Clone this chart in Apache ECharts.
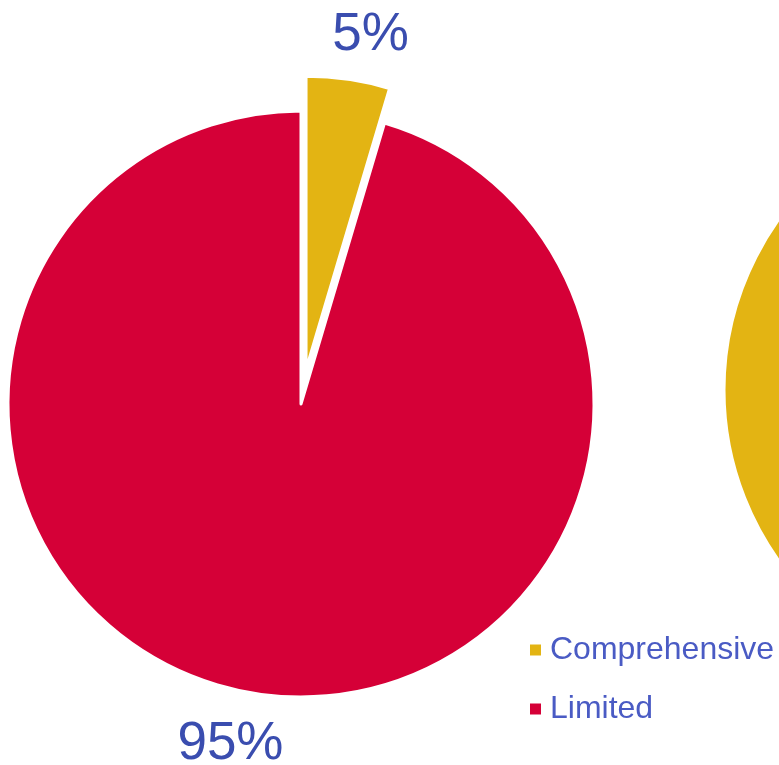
<!DOCTYPE html>
<html lang="en">
<head>
    <meta charset="UTF-8">
    <title>Comprehensive vs Limited</title>
    <script src="https://cdn.jsdelivr.net/npm/echarts@6/dist/echarts.min.js"></script>
</head>
<body style="height: 100%; margin: 0; background: #fff;">
<div id="container" style="width: 779px; height: 765px;"></div>
<script type="text/javascript">

    // categories and values (percent, labels show rounded values)
    let categories = ['Comprehensive', 'Limited'];
    let leftValues = [4.6, 95.4];
    let rightValues = [90, 10];   // second pie, mostly off screen
    let colors = ['#E3B413', '#D50037'];

    // per slice label distance (line length, second segment)
    let labelLen = [[44, 11], [51, 16]];

    let dom = document.getElementById("container");
    let myChart = echarts.init(dom);

    function pieData(values, selectFirst) {
        return categories.map(function (name, i) {
            return {
                name: name,
                value: values[i],
                selected: selectFirst && i === 0,
                itemStyle: {color: colors[i]},
                select: {itemStyle: {color: colors[i]}},
                labelLine: {show: false, length: labelLen[i][0], length2: labelLen[i][1]}
            };
        });
    }

    let labelStyle = {
        show: true,
        position: 'outside',
        formatter: function (p) {
            return Math.round(p.value) + '%';
        },
        fontFamily: 'Liberation Sans',
        fontSize: 53,
        color: '#3A4DAF'
    };

    let option = {
        backgroundColor: '#fff',
        animation: false,
        legend: {
            orient: 'vertical',
            left: 528,
            top: 634,
            padding: 0,
            itemWidth: 13,
            itemHeight: 13,
            itemGap: 27,
            icon: 'rect',
            data: categories,
            textStyle: {
                fontFamily: 'Liberation Sans',
                fontSize: 32,
                lineHeight: 32,
                padding: [0, 0, 0, 3],
                color: '#4A5BC4'
            }
        },
        series: [{
            type: 'pie',
            name: 'left',
            center: [301, 404],
            radius: 293,
            startAngle: 90,
            clockwise: true,
            selectedMode: 'single',
            selectedOffset: 35,
            itemStyle: {borderColor: '#fff', borderWidth: 3},
            label: labelStyle,
            labelLine: {show: false},
            labelLayout: {align: 'center'},
            emphasis: {disabled: true},
            data: pieData(leftValues, true)
        }, {
            type: 'pie',
            name: 'right',
            center: [1017, 390],
            radius: 293,
            startAngle: 90,
            clockwise: true,
            itemStyle: {borderColor: '#fff', borderWidth: 3},
            label: labelStyle,
            labelLine: {show: false},
            labelLayout: {align: 'center'},
            emphasis: {disabled: true},
            data: pieData(rightValues, false)
        }]
    };
    myChart.setOption(option, true);

</script>
</body>
</html>
